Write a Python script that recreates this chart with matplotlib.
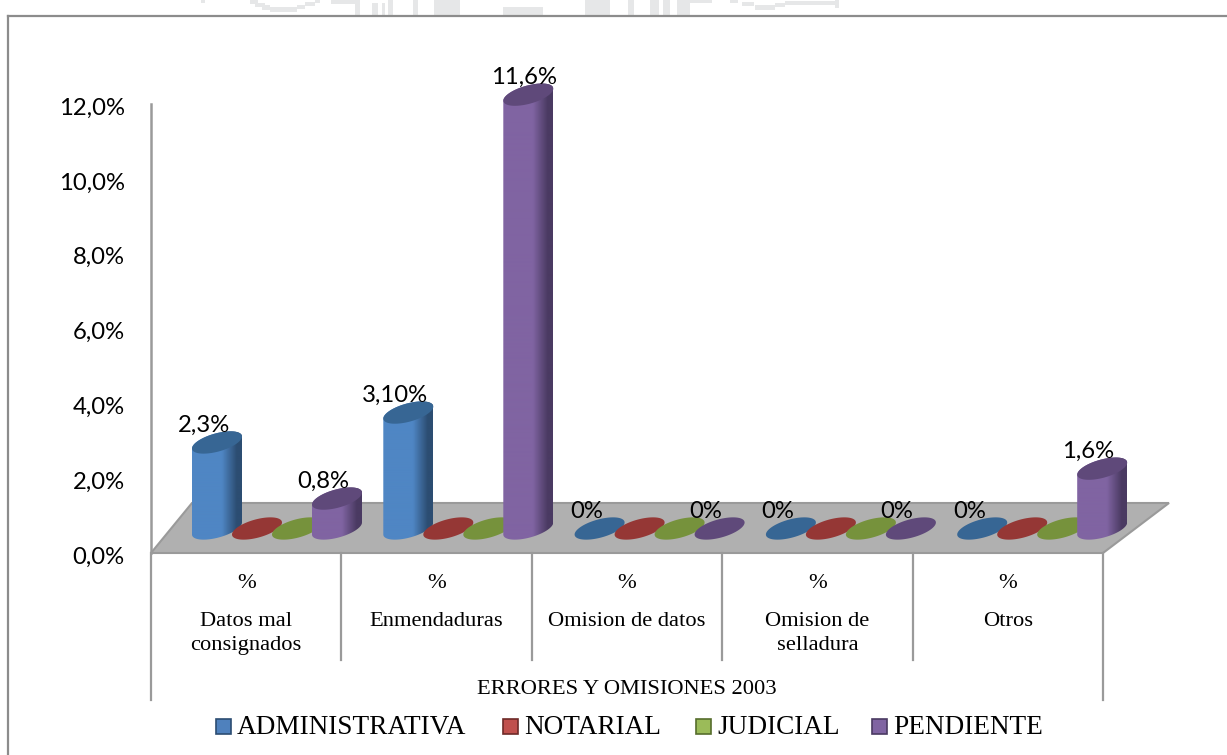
import numpy as np
import matplotlib
matplotlib.use('Agg')
import matplotlib.pyplot as plt
from matplotlib.colors import LinearSegmentedColormap
from matplotlib.patches import Polygon, Rectangle
from matplotlib.transforms import ScaledTranslation

# data
categories = ['Datos mal\nconsignados', 'Enmendaduras', 'Omision de datos',
              'Omision de\nselladura', 'Otros']
series_names = ['ADMINISTRATIVA', 'NOTARIAL', 'JUDICIAL', 'PENDIENTE']
administrativa = [2.3, 3.1, 0, 0, 0]
notarial = [0, 0, 0, 0, 0]
judicial = [0, 0, 0, 0, 0]
pendiente = [0.8, 11.6, 0, 0, 1.6]
admin_labels = ['2,3%', '3,10%', '0%', '0%', '0%']
pend_labels = ['0,8%', '11,6%', '0%', '0%', '1,6%']
y_ticks = [0, 2, 4, 6, 8, 10, 12]
y_tick_labels = ['0,0%', '2,0%', '4,0%', '6,0%', '8,0%', '10,0%', '12,0%']
sub_label = '%'
group_label = 'ERRORES Y OMISIONES 2003'

# (side, body middle, top, legend fill)
colors = [('#2c4d72', '#4f86c4', '#376694', '#4f81bd'),
          ('#6e2a28', '#c0504d', '#953735', '#c0504d'),
          ('#566d2c', '#9bbb59', '#76923c', '#9bbb59'),
          ('#4a3a62', '#8064a2', '#5f497a', '#8064a2')]

W, H = 1227, 755
PX = 190.4   # pixels per category
PY = 37.4    # pixels per percent
X0, Y0 = 151, 553  # pixel of the axis origin
SANS = 'Lato'
SERIF = 'Liberation Serif'

fig = plt.figure(figsize=(W / 100, H / 100), dpi=100)
ax = fig.add_axes([0, 0, 1, 1])
xlim = (-X0 / PX, (W - X0) / PX)
ylim = (-(H - Y0) / PY, Y0 / PY)


def dx(p):
    return p / PX


def dy(p):
    return p / PY


# floor
floor = Polygon([(0, 0), (5, 0), (5 + dx(66), dy(50)), (dx(41), dy(50))],
                closed=True, facecolor='#b0b0b0', edgecolor='#9a9a9a', lw=1.5, zorder=1)
ax.add_patch(floor)

# cylinders
base = dy(24.5)
a = 25.0
tilt = 6.0
h = 9.4
first_bar = dx(66)
bar_step = dx(40)
group_step = dx(191.3)
t_low = np.linspace(np.pi, 2 * np.pi, 60)
t_up = np.linspace(0, np.pi, 60)
t_all = np.linspace(0, 2 * np.pi, 120)


def ring(cx, cy, t):
    return np.column_stack([cx + dx(a * np.cos(t)), cy + dy(tilt * np.cos(t) + h * np.sin(t))])


z = 2
all_series = [administrativa, notarial, judicial, pendiente]
for g in range(len(categories)):
    for s, vals in enumerate(all_series):
        cx = g * group_step + first_bar + s * bar_step
        v = vals[g]
        side, mid, top, _ = colors[s]
        cy = base + v
        if v > 0:
            outline = np.vstack([ring(cx, base, t_low), ring(cx, cy, t_up)])
            body = Polygon(outline, closed=True, facecolor='none', edgecolor='none', zorder=z)
            ax.add_patch(body)
            cmap = LinearSegmentedColormap.from_list('c', [(0, mid), (0.6, mid), (0.9, side), (1, side)])
            im = ax.imshow(np.linspace(0, 1, 100).reshape(1, -1), cmap=cmap, aspect='auto', zorder=z,
                           extent=(cx - dx(a), cx + dx(a), base - dy(15), cy + dy(15)))
            im.set_clip_path(body)
        ax.add_patch(Polygon(ring(cx, cy, t_all), closed=True, facecolor=top, edgecolor='none', zorder=z + 0.5))
        z += 1

# data labels
for g in range(len(categories)):
    cx = g * group_step + first_bar
    ax.text(cx - dx(13), base + administrativa[g] + dy(17), admin_labels[g], family=SANS, fontsize=17.2,
            ha='center', va='center', zorder=100)
    cx = g * group_step + first_bar + 3 * bar_step
    off = 4 if pendiente[g] > 10 else 14
    ax.text(cx - dx(off), base + pendiente[g] + dy(17), pend_labels[g], family=SANS, fontsize=17.2,
            ha='center', va='center', zorder=100)

# value axis
for k in ['top', 'right', 'bottom']:
    ax.spines[k].set_visible(False)
ax.patch.set_visible(False)
ax.spines['left'].set_position(('data', 0))
ax.spines['left'].set_bounds(0, 12)
ax.spines['left'].set_color('#9a9a9a')
ax.spines['left'].set_linewidth(1.8)
ax.set_yticks(y_ticks)
ax.set_yticklabels(y_tick_labels, family=SANS, fontsize=17.2)
ax.tick_params(axis='y', length=0, pad=19)
ax.set_xticks([])
# labels sit 2 px lower than the tick
shift = ScaledTranslation(0, -2 / 100, fig.dpi_scale_trans)
for lab in ax.get_yticklabels():
    lab.set_transform(lab.get_transform() + shift)

# category table below the floor
for g in range(len(categories) + 1):
    outer = g == 0 or g == len(categories)
    ax.plot([g, g], [0, dy(-147 if outer else -107)], color='#9a9a9a', lw=1.6, zorder=1)
for g, name in enumerate(categories):
    ax.text(g + 0.5, dy(-30), sub_label, family=SERIF, fontsize=16.2, ha='center', va='center')
    ax.text(g + 0.5, dy(-59), name, family=SERIF, fontsize=16.2, ha='center', va='top', linespacing=1.38)
ax.text(2.5, dy(-137), group_label, family=SERIF, fontsize=16.2, ha='center', va='center')

# legend
square_px = [216, 503, 696, 872]
for s, name in enumerate(series_names):
    px = (square_px[s] - X0) / PX
    ax.add_patch(Rectangle((px, dy(-181)), dx(15), dy(15), facecolor=colors[s][3], edgecolor=colors[s][0], lw=1.2))
    ax.text(px + dx(21), dy(-174), name, family=SERIF, fontsize=19.6, ha='left', va='center')

# outer border of the pasted chart, only left and top
ax.plot([dx(-143), dx(-143)], [ylim[0], dy(Y0 - 16)], color='#8c8c8c', lw=1.6, clip_on=False)
ax.plot([dx(-143), xlim[1]], [dy(Y0 - 16), dy(Y0 - 16)], color='#8c8c8c', lw=1.6, clip_on=False)

# bits of the page watermark above the chart: x, width, y top, y bottom in pixels
for x_px, w_px, t_px, b_px in [(201, 4, 0, 3), (250, 8, 0, 4), (255, 10, 3, 7), (262, 8, 5, 10),
                               (270, 27, 7, 12), (297, 8, 5, 9), (305, 10, 2, 6), (315, 5, 0, 3),
                               (331, 25, 0, 4), (355, 5, 0, 15), (372, 6, 3, 15), (382, 3, 3, 15),
                               (388, 5, 0, 15), (413, 5, 0, 15), (434, 26, 0, 15), (503, 40, 7, 15),
                               (585, 25, 0, 15), (628, 6, 0, 15), (650, 9, 0, 15), (663, 7, 0, 15),
                               (677, 13, 0, 15), (690, 22, 0, 3), (730, 8, 0, 3), (742, 12, 2, 6),
                               (755, 20, 5, 10), (775, 10, 3, 7), (785, 50, 1, 5), (835, 4, 0, 8)]:
    ax.add_patch(Rectangle(((x_px - X0) / PX, dy(Y0 - b_px)), dx(w_px), dy(b_px - t_px), facecolor='#e6e7e8',
                           edgecolor='none', zorder=0))

ax.set_xlim(xlim)
ax.set_ylim(ylim)
fig.savefig('out.png', dpi=100)
